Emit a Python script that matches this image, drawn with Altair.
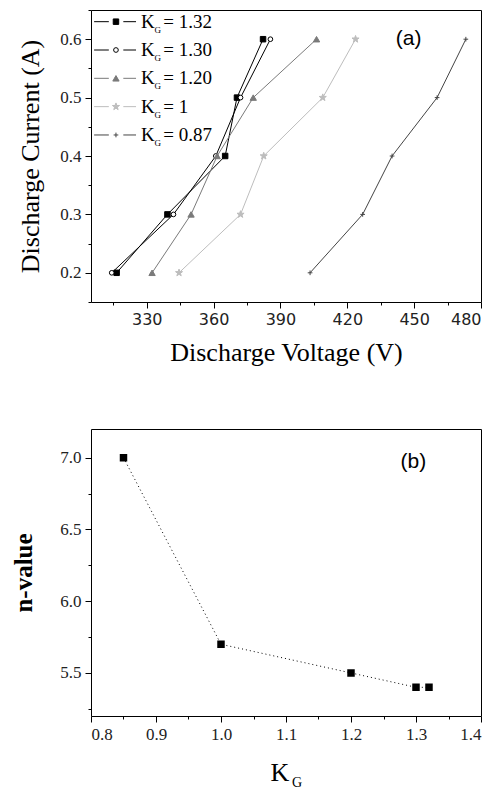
import altair as alt
import pandas as pd

# ---------------- data: panel (a) ----------------
current = [0.2, 0.3, 0.4, 0.5, 0.6]
series_names = ["1.32", "1.30", "1.20", "1", "0.87"]
v_132 = [316.5, 339.3, 365.2, 370.5, 382.2]
v_130 = [314.3, 342.0, 361.0, 372.1, 385.5]
v_120 = [332.4, 349.9, 361.6, 377.8, 406.2]
v_100 = [344.5, 372.1, 382.5, 409.0, 423.7]
v_087 = [403.3, 426.9, 440.1, 460.3, 473.2]
voltages = [v_132, v_130, v_120, v_100, v_087]

# ---------------- data: panel (b) ----------------
kg = [0.85, 1.0, 1.2, 1.3, 1.32]
n_value = [7.0, 5.7, 5.5, 5.4, 5.4]

# tick values
xa_ticks = [315, 330, 345, 360, 375, 390, 405, 420, 435, 450, 465, 480]
ya_ticks = [0.15, 0.2, 0.25, 0.3, 0.35, 0.4, 0.45, 0.5, 0.55, 0.6, 0.65]
xb_ticks = [0.8, 0.85, 0.9, 0.95, 1.0, 1.05, 1.1, 1.15, 1.2, 1.25, 1.3, 1.35, 1.4]
yb_ticks = [5.25, 5.5, 5.75, 6.0, 6.25, 6.5, 6.75, 7.0]

# ---------------- styles ----------------
STAR = ("M0,-1L0.235,-0.324L0.951,-0.309L0.38,0.124L0.588,0.809L0,0.4"
        "L-0.588,0.809L-0.38,0.124L-0.951,-0.309L-0.235,-0.324Z")
PLUS = "M-1,0L1,0M0,-1L0,1"
styles = [
    dict(color="#000000", shape="square", fill="#000000", size=30),
    dict(color="#000000", shape="circle", fill="#ffffff", size=22),
    dict(color="#7a7a7a", shape="triangle-up", fill="#7a7a7a", size=40),
    dict(color="#bdbdbd", shape=STAR, fill="#bdbdbd", size=55),
    dict(color="#444444", shape=PLUS, fill=None, size=22),
]
# legend placement (data units of panel a)
leg_y = [0.630, 0.5815, 0.533, 0.4845, 0.436]
leg_seg1 = (306.4, 313.0)
leg_seg2 = (319.5, 325.2)
leg_mark_x = 316.2
leg_k_x = 327.4
leg_g_x = 333.5
leg_eq_x = 337.4

SERIF = "Liberation Serif"
SANS = "Liberation Sans"

W, H_A, H_B = 390, 292, 287


def point_kw(st):
    kw = dict(shape=st["shape"], size=st["size"], stroke=st["color"], strokeWidth=1, opacity=1)
    if st["fill"] is not None:
        kw["fill"] = st["fill"]
        kw["filled"] = True
    else:
        kw["filled"] = False
    return kw


x_a = alt.X("x:Q",
            scale=alt.Scale(domain=[305, 480], nice=False, zero=False),
            axis=alt.Axis(values=xa_ticks, format="d",
                          labelExpr="datum.value % 30 == 0 ? datum.label : ''",
                          tickSize={"condition": {"test": "datum.value % 30 == 0", "value": 6}, "value": 3},
                          labelFont="DejaVu Sans", labelFontSize=16, labelPadding=3,
                          title="Discharge Voltage (V)", titleFont=SERIF, titleFontSize=26,
                          titleFontWeight="normal", titlePadding=12))
y_a = alt.Y("y:Q",
            scale=alt.Scale(domain=[0.15, 0.65], nice=False, zero=False),
            axis=alt.Axis(values=ya_ticks,
                          labelExpr="round(datum.value*20) % 2 == 0 ? format(datum.value, '.1f') : ''",
                          tickSize={"condition": {"test": "round(datum.value*20) % 2 == 0", "value": 6}, "value": 3},
                          labelFont=SERIF, labelFontSize=17, labelPadding=4,
                          title="Discharge Current (A)", titleFont=SERIF, titleFontSize=26,
                          titleFontWeight="normal", titlePadding=16))

layers_a = []
for name, volts, st in zip(series_names, voltages, styles):
    df = pd.DataFrame({"x": volts, "y": current})
    layers_a.append(alt.Chart(df).mark_line(color=st["color"], strokeWidth=1).encode(x=x_a, y=y_a))
    layers_a.append(alt.Chart(df).mark_point(**point_kw(st)).encode(x=x_a, y=y_a))

# legend
for name, ly, st in zip(series_names, leg_y, styles):
    seg = pd.DataFrame({"x": [leg_seg1[0], leg_seg2[0]], "x2": [leg_seg1[1], leg_seg2[1]], "y": [ly, ly]})
    layers_a.append(alt.Chart(seg).mark_rule(color=st["color"], strokeWidth=1).encode(x=x_a, x2="x2:Q", y=y_a))
    mk = pd.DataFrame({"x": [leg_mark_x], "y": [ly]})
    layers_a.append(alt.Chart(mk).mark_point(**point_kw(st)).encode(x=x_a, y=y_a))
    tk = pd.DataFrame({"x": [leg_k_x], "y": [ly], "t": ["K"]})
    layers_a.append(alt.Chart(tk).mark_text(align="left", baseline="middle", font=SERIF, fontSize=19,
                                            color="#000000").encode(x=x_a, y=y_a, text="t:N"))
    tg = pd.DataFrame({"x": [leg_g_x], "y": [ly], "t": ["G"]})
    layers_a.append(alt.Chart(tg).mark_text(align="left", baseline="middle", font=SERIF, fontSize=9,
                                            dy=8, color="#000000").encode(x=x_a, y=y_a, text="t:N"))
    te = pd.DataFrame({"x": [leg_eq_x], "y": [ly], "t": ["= " + name]})
    layers_a.append(alt.Chart(te).mark_text(align="left", baseline="middle", font=SERIF, fontSize=19,
                                            color="#000000").encode(x=x_a, y=y_a, text="t:N"))

lab_a = pd.DataFrame({"x": [447.5], "y": [0.6], "t": ["(a)"]})
layers_a.append(alt.Chart(lab_a).mark_text(font=SANS, fontSize=21, color="#000000",
                                           baseline="middle").encode(x=x_a, y=y_a, text="t:N"))

chart_a = alt.layer(*layers_a).properties(width=W, height=H_A)

# ---------------- panel (b) ----------------
x_b = alt.X("x:Q",
            scale=alt.Scale(domain=[0.8, 1.4], nice=False, zero=False),
            axis=alt.Axis(values=xb_ticks,
                          labelExpr="round(datum.value*20) % 2 == 0 ? format(datum.value, '.1f') : ''",
                          tickSize={"condition": {"test": "round(datum.value*20) % 2 == 0", "value": 6}, "value": 3},
                          labelFont=SERIF, labelFontSize=17, labelPadding=4, title=None))
y_b = alt.Y("y:Q",
            scale=alt.Scale(domain=[5.2, 7.2], nice=False, zero=False),
            axis=alt.Axis(values=yb_ticks,
                          labelExpr="round(datum.value*4) % 2 == 0 ? format(datum.value, '.1f') : ''",
                          tickSize={"condition": {"test": "round(datum.value*4) % 2 == 0", "value": 6}, "value": 3},
                          labelFont=SERIF, labelFontSize=17, labelPadding=4,
                          title="n-value", titleFont=SERIF, titleFontSize=25,
                          titleFontWeight="bold", titlePadding=23))

df_b = pd.DataFrame({"x": kg, "y": n_value})
line_b = alt.Chart(df_b).mark_line(color="#000000", strokeWidth=1, strokeDash=[1, 3]).encode(x=x_b, y=y_b)
pts_b = alt.Chart(df_b).mark_point(shape="square", filled=True, fill="#000000", stroke="#000000",
                                   size=30, opacity=1).encode(x=x_b, y=y_b)
lab_b = pd.DataFrame({"x": [1.296], "y": [6.97], "t": ["(b)"]})
txt_b = alt.Chart(lab_b).mark_text(font=SANS, fontSize=21, color="#000000",
                                   baseline="middle").encode(x=x_b, y=y_b, text="t:N")
kt = pd.DataFrame({"t": ["K"]})
k_title = alt.Chart(kt).mark_text(font=SERIF, fontSize=26, color="#000000", align="center",
                                  baseline="alphabetic").encode(x=alt.value(189), y=alt.value(352), text="t:N")
gt = pd.DataFrame({"t": ["G"]})
g_title = alt.Chart(gt).mark_text(font=SERIF, fontSize=14, color="#000000", align="left",
                                  baseline="alphabetic").encode(x=alt.value(201), y=alt.value(358), text="t:N")

chart_b = alt.layer(line_b, pts_b, txt_b, k_title, g_title).properties(width=W, height=H_B)

chart = alt.vconcat(chart_a, chart_b, spacing=62).properties(
    padding={"left": 3, "top": 1, "right": 0, "bottom": 3}
).configure(
    background="#ffffff"
).configure_view(
    stroke="#000000", strokeWidth=1
).configure_axis(
    domain=False, grid=False, tickColor="#000000", labelColor="#222222", titleColor="#000000"
)

chart.save("out.html", embed_options={"renderer": "svg", "actions": False})
